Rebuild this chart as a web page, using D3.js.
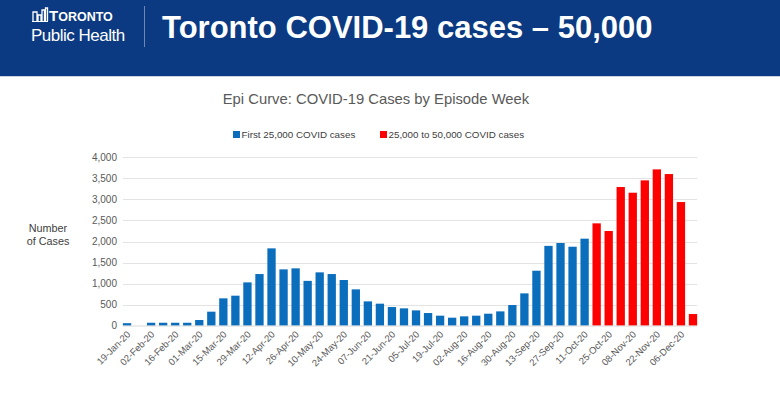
<!DOCTYPE html>
<html>
<head>
<meta charset="utf-8">
<script src="https://cdn.jsdelivr.net/npm/d3@7"></script>
<style>
  body { margin: 0; background: #fff; }
  svg { display: block; font-family: "Liberation Sans", Arial, sans-serif; }
</style>
</head>
<body>
<div id="chart"></div>
<script>
// week labels (episode week start)
var weeks = ["19-Jan-20","26-Jan-20","02-Feb-20","09-Feb-20","16-Feb-20","23-Feb-20","01-Mar-20","08-Mar-20",
  "15-Mar-20","22-Mar-20","29-Mar-20","05-Apr-20","12-Apr-20","19-Apr-20","26-Apr-20","03-May-20","10-May-20",
  "17-May-20","24-May-20","31-May-20","07-Jun-20","14-Jun-20","21-Jun-20","28-Jun-20","05-Jul-20","12-Jul-20",
  "19-Jul-20","26-Jul-20","02-Aug-20","09-Aug-20","16-Aug-20","23-Aug-20","30-Aug-20","06-Sep-20","13-Sep-20",
  "20-Sep-20","27-Sep-20","04-Oct-20","11-Oct-20","18-Oct-20","25-Oct-20","01-Nov-20","08-Nov-20","15-Nov-20",
  "22-Nov-20","29-Nov-20","06-Dec-20","13-Dec-20"];

// first 25,000 cases (19-Jan to 11-Oct)
var firstCases = [60, 0, 70, 70, 70, 70, 135, 333, 650, 713, 1029, 1227, 1837, 1338, 1362, 1065, 1267,
  1227, 1085, 863, 578, 523, 443, 412, 364, 301, 238, 190, 222, 238, 285, 340, 491, 768, 1306, 1896,
  1964, 1876, 2067];

// 25,000 to 50,000 cases (18-Oct to 13-Dec)
var secondCases = [2431, 2249, 3294, 3159, 3452, 3713, 3602, 2937, 277];

var seriesNames = ["First 25,000 COVID cases", "25,000 to 50,000 COVID cases"];
var seriesColors = ["#0a6ebd", "#ff0000"];
var yTicks = [0, 500, 1000, 1500, 2000, 2500, 3000, 3500, 4000];

var data = weeks.map(function(w, i) {
  var s = i < firstCases.length ? 0 : 1;
  var v = s === 0 ? firstCases[i] : secondCases[i - firstCases.length];
  return {week: w, value: v, series: s, idx: i};
});

var width = 780, height = 394;

var svg = d3.select("#chart")
  .append("svg")
    .attr("width", width)
    .attr("height", height);

// header band
svg.append("rect")
  .attr("x", 0).attr("y", 0)
  .attr("width", width).attr("height", 76)
  .attr("fill", "#0b3a82");
svg.append("rect")
  .attr("x", 0).attr("y", 76)
  .attr("width", width).attr("height", 1)
  .attr("fill", "#c9d2e3");

// logo: little skyline icon
var logo = svg.append("g")
  .attr("fill", "none")
  .attr("stroke", "#ffffff")
  .attr("stroke-width", 1.3);
logo.append("path").attr("d", "M33,21 V12 H37 V21 M38,21 V15 H41 V21 M42,21 V10 H44.5 V21 M45.5,21 V8 H47.5 V21");
logo.append("path").attr("d", "M32,21.5 H48").attr("stroke-width", 1);

var tor = svg.append("text")
  .attr("x", 49).attr("y", 21)
  .attr("fill", "#fff")
  .attr("font-family", "'Liberation Sans Narrow', 'Arial Narrow', sans-serif")
  .attr("font-weight", "bold");
tor.append("tspan").attr("font-size", "15px").text("T");
tor.append("tspan").attr("font-size", "12.5px").text("ORONTO");

svg.append("text")
  .attr("x", 31).attr("y", 41)
  .attr("fill", "#fff")
  .attr("font-size", "17px")
  .attr("letter-spacing", "-0.5")
  .text("Public Health");

svg.append("line")
  .attr("x1", 144.5).attr("x2", 144.5)
  .attr("y1", 6).attr("y2", 47)
  .attr("stroke", "#7186b5")
  .attr("stroke-width", 1);

svg.append("text")
  .attr("x", 162).attr("y", 38)
  .attr("fill", "#fff")
  .attr("font-size", "31px")
  .attr("font-weight", "bold")
  .text("Toronto COVID-19 cases \u2013 50,000");

// chart title
svg.append("text")
  .attr("x", 376).attr("y", 104)
  .attr("text-anchor", "middle")
  .attr("fill", "#595959")
  .attr("font-size", "14.8px")
  .text("Epi Curve: COVID-19 Cases by Episode Week");

// legend
var legendX = [233, 380];
seriesNames.forEach(function(name, i) {
  svg.append("rect")
    .attr("x", legendX[i]).attr("y", 131)
    .attr("width", 7).attr("height", 7)
    .attr("fill", seriesColors[i]);
  svg.append("text")
    .attr("x", legendX[i] + 8.5).attr("y", 138)
    .attr("fill", "#404040")
    .attr("font-size", "9.8px")
    .text(name);
});

// scales
var xScale = d3.scaleBand()
  .domain(weeks)
  .range([121, 699])
  .paddingInner(0.31)
  .paddingOuter(0.155);

var yScale = d3.scaleLinear()
  .domain([0, 4000])
  .range([325.7, 157.3]);

// gridlines
svg.append("g")
  .selectAll("line")
  .data(yTicks.slice(1))
  .enter()
  .append("line")
    .attr("x1", 123).attr("x2", 697)
    .attr("y1", function(d) { return Math.round(yScale(d)) + 0.5; })
    .attr("y2", function(d) { return Math.round(yScale(d)) + 0.5; })
    .attr("stroke", "#e3e3e3")
    .attr("stroke-width", 1);

// y axis
var yAxis = svg.append("g")
  .attr("transform", "translate(117,0)")
  .call(d3.axisLeft(yScale).tickValues(yTicks).tickSize(0).tickPadding(0).tickFormat(d3.format(",")));
yAxis.select(".domain").remove();
yAxis.selectAll("text")
  .attr("fill", "#595959")
  .attr("font-size", "10px")
  .attr("font-family", "'Liberation Sans', Arial, sans-serif");

svg.append("text")
  .attr("x", 48).attr("y", 232)
  .attr("text-anchor", "middle")
  .attr("fill", "#404040")
  .attr("font-size", "10.8px")
  .text("Number");
svg.append("text")
  .attr("x", 48).attr("y", 245)
  .attr("text-anchor", "middle")
  .attr("fill", "#404040")
  .attr("font-size", "10.8px")
  .text("of Cases");

// bars
svg.append("g")
  .selectAll("rect")
  .data(data)
  .enter()
  .append("rect")
    .attr("x", function(d) { return xScale(d.week); })
    .attr("y", function(d) { return yScale(d.value); })
    .attr("width", xScale.bandwidth())
    .attr("height", function(d) { return yScale(0) - yScale(d.value); })
    .attr("fill", function(d) { return seriesColors[d.series]; });

// baseline
svg.append("line")
  .attr("x1", 123).attr("x2", 697)
  .attr("y1", 326).attr("y2", 326)
  .attr("stroke", "#d9d9d9")
  .attr("stroke-width", 1);

// x axis, every second week labelled
var xAxis = svg.append("g")
  .attr("transform", "translate(0,326)")
  .call(d3.axisBottom(xScale)
    .tickValues(weeks.filter(function(w, i) { return i % 2 === 0; }))
    .tickSize(0).tickPadding(0));
xAxis.select(".domain").remove();
xAxis.selectAll("text")
  .attr("fill", "#595959")
  .attr("font-size", "9.5px")
  .attr("font-family", "'Liberation Sans', Arial, sans-serif")
  .attr("text-anchor", "end")
  .attr("dy", "0")
  .attr("transform", "translate(4,9) rotate(-45)");
</script>
</body>
</html>
